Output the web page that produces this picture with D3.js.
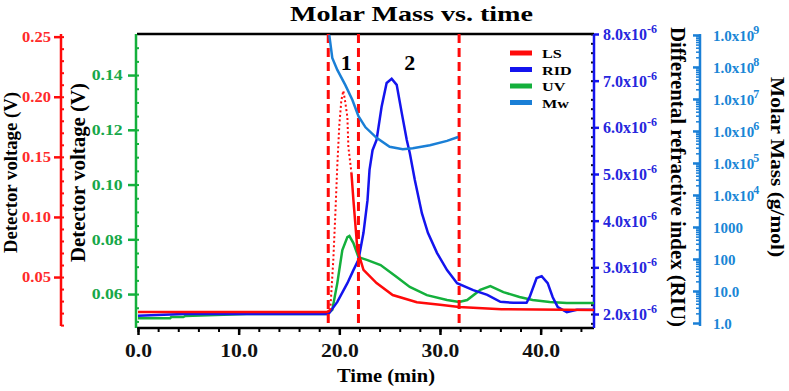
<!DOCTYPE html>
<html><head><meta charset="utf-8">
<script src="https://cdn.jsdelivr.net/npm/d3@7"></script>
<style>
html,body{margin:0;padding:0;background:#fff;}
svg{display:block;}
</style></head>
<body><svg id="c" width="789" height="391"></svg>
<script>
// ---- data ----
const timeTicks = [0, 10, 20, 30, 40];
const timeTickLabels = ["0.0", "10.0", "20.0", "30.0", "40.0"];
const lsTicks = [0.05, 0.10, 0.15, 0.20, 0.25];
const uvTicks = [0.06, 0.08, 0.10, 0.12, 0.14];
const ridTicks = [2, 3, 4, 5, 6, 7, 8]; // x1e-6
const mwTicks = [1, 10, 100, 1000, 1e4, 1e5, 1e6, 1e7, 1e8, 1e9];
const mwTickLabels = ["1.0", "10.0", "100", "1000", "1.0x10|4", "1.0x10|5", "1.0x10|6", "1.0x10|7", "1.0x10|8", "1.0x10|9"];
const seriesNames = ["LS", "RID", "UV", "Mw"];
const peakLines = [18.9, 21.9, 31.9];
const peakLabels = ["1", "2"];
const peakLabelTimes = [20.7, 27.0];

const lsTime = [0, 18.8, 19.1, 19.4, 19.6, 19.8, 20.0, 20.2, 20.4, 20.6, 20.8, 20.9, 21.2, 21.4, 21.8, 22.4, 23.7, 25.3, 27.7, 30.0, 31.9, 36.1, 45.3];
const lsVal  = [0.0209, 0.021, 0.0225, 0.064, 0.1016, 0.143, 0.1765, 0.197, 0.205, 0.195, 0.183, 0.158, 0.137, 0.114, 0.0725, 0.056, 0.045, 0.035, 0.029, 0.027, 0.025, 0.0233, 0.0225];

const uvTime = [0, 3.2, 3.3, 4.5, 4.7, 10.8, 18.8, 19.3, 19.8, 20.3, 20.8, 21.0, 21.4, 21.9, 22.8, 24.1, 25.7, 27.0, 28.7, 30.7, 31.9, 32.7, 34.0, 35.0, 36.3, 37.9, 39.2, 40.9, 42.6, 45.3];
const uvVal  = [0.0512, 0.0512, 0.0516, 0.0516, 0.0520, 0.0527, 0.0527, 0.0542, 0.0640, 0.0761, 0.0808, 0.0812, 0.0786, 0.0735, 0.0724, 0.0706, 0.0662, 0.0626, 0.0596, 0.0578, 0.0571, 0.0578, 0.0615, 0.0629, 0.0607, 0.0589, 0.0578, 0.0571, 0.0567, 0.0567];

const ridTime = [0, 4.5, 18.8, 19.0, 19.8, 20.8, 21.4, 21.9, 22.4, 22.8, 23.0, 23.3, 23.7, 24.2, 24.7, 25.2, 25.7, 26.2, 26.7, 27.0, 27.5, 28.2, 28.8, 29.7, 30.7, 31.7, 33.3, 34.7, 36.0, 37.3, 38.6, 38.9, 39.6, 40.1, 40.7, 41.2, 41.7, 42.6, 43.6, 45.3];
const ridVal  = [1.96, 2.0, 2.0, 2.02, 2.26, 2.66, 2.94, 3.16, 3.74, 4.44, 5.09, 5.51, 5.73, 6.44, 6.95, 7.04, 6.91, 6.31, 5.73, 5.45, 4.87, 4.16, 3.74, 3.31, 2.94, 2.66, 2.51, 2.41, 2.26, 2.24, 2.24, 2.36, 2.77, 2.81, 2.66, 2.36, 2.15, 2.04, 2.09, 2.09]; // x1e-6

const mwTime = [19.0, 19.3, 19.8, 20.6, 21.3, 21.9, 22.6, 23.7, 25.0, 26.3, 27.3, 29.0, 30.7, 31.8];
const mwVal  = [1.0e9, 1.9e8, 8.1e7, 2.7e7, 9.3e6, 2.9e6, 1.3e6, 6.1e5, 3.2e5, 2.7e5, 2.9e5, 3.6e5, 4.9e5, 6.5e5];

// ---- styles ----
const FONT = "Liberation Serif, Times New Roman, serif";
const cRed = "#ff0a0a", cRid = "#1414ee", cUv = "#14b03c", cMw = "#1a7fd6";
const cRedTxt = "#ff2a2a", cUvTxt = "#17a84a", cRidTxt = "#2626dd", cMwTxt = "#1a86d6";

const svg = d3.select("#c");
const L = 137, R = 594, T = 34, B = 328;

const x = d3.scaleLinear().domain([0, 45.3]).range([138, R]);
const yLS = d3.scaleLinear().domain([0.0076, 0.2522]).range([B, T]);
const yUV = d3.scaleLinear().domain([0.0476, 0.155]).range([B, T]);
const yRID = d3.scaleLinear().domain([1.70, 8.0]).range([B, T]);
const yMW = d3.scaleLog().domain([0.698, 1.07e9]).range([B, T]);

// ---- frame ----
svg.append("line").attr("x1", L).attr("x2", R).attr("y1", T).attr("y2", T).attr("stroke", "#000").attr("stroke-width", 2.5);

// x axis
const gx = svg.append("g").attr("transform", `translate(0,${B})`);
gx.call(d3.axisBottom(x).tickValues(d3.range(0, 45, 2)).tickSize(4).tickFormat(""));
gx.call(g => g.selectAll(".tick line").attr("stroke-width", 2));
const gx2 = svg.append("g").attr("transform", `translate(0,${B})`);
gx2.call(d3.axisBottom(x).tickValues(timeTicks).tickSize(7).tickFormat((d, i) => timeTickLabels[i]));
gx2.select(".domain").remove();
gx2.selectAll(".tick line").attr("stroke-width", 2.5);
gx2.selectAll(".tick text").attr("font-size", 18.5).attr("y", 29).attr("dy", 0).attr("fill", "#111").attr("transform", "scale(1.17,1)");
gx.select(".domain").attr("d", `M${L},0H${R}`).attr("stroke-width", 2.5);
svg.append("text").attr("x", 386).attr("y", 382).attr("text-anchor", "middle").attr("font-size", 18)
  .attr("textLength", 98).attr("lengthAdjust", "spacingAndGlyphs").text("Time (min)");

// red LS axis
const aLSx = 61;
const gLSm = svg.append("g").attr("transform", `translate(${aLSx},0)`)
  .call(d3.axisRight(yLS).tickValues(d3.range(0.01, 0.251, 0.01)).tickSize(3).tickFormat(""));
gLSm.selectAll("line").attr("stroke", cRed).attr("stroke-width", 2);
gLSm.select(".domain").attr("stroke", cRed).attr("stroke-width", 2.5).attr("d", `M0,${yLS(0.2522)}V${B - 2}`);
const gLS = svg.append("g").attr("transform", `translate(${aLSx},0)`)
  .call(d3.axisLeft(yLS).tickValues(lsTicks).tickSize(7).tickFormat(d3.format(".2f")));
gLS.select(".domain").remove();
gLS.selectAll("line").attr("stroke", cRed).attr("stroke-width", 2.5);
gLS.selectAll("text").attr("fill", cRedTxt).attr("font-size", 14).attr("x", -8.5).attr("transform", "scale(1.18,1)");
svg.append("text").attr("transform", "translate(17,172.5) rotate(-90)").attr("text-anchor", "middle").attr("font-size", 18.7)
  .attr("textLength", 161).attr("lengthAdjust", "spacingAndGlyphs").text("Detector voltage (V)");

// green UV axis
const aUVx = 136;
const gUVm = svg.append("g").attr("transform", `translate(${aUVx},0)`)
  .call(d3.axisRight(yUV).tickValues(d3.range(0.05, 0.151, 0.005)).tickSize(3).tickFormat(""));
gUVm.select(".domain").attr("stroke", cUv).attr("stroke-width", 2.5).attr("d", `M0,${T}V${B}`);
gUVm.selectAll("line").attr("stroke", cUv).attr("stroke-width", 2);
const gUV = svg.append("g").attr("transform", `translate(${aUVx},0)`)
  .call(d3.axisLeft(yUV).tickValues(uvTicks).tickSize(8).tickFormat(d3.format(".2f")));
gUV.select(".domain").remove();
gUV.selectAll("line").attr("stroke", cUv).attr("stroke-width", 2.5);
gUV.selectAll("text").attr("fill", cUvTxt).attr("font-size", 15).attr("x", -11.3).attr("transform", "scale(1.18,1)");
svg.append("text").attr("transform", "translate(85,172.5) rotate(-90)").attr("text-anchor", "middle").attr("font-size", 20.8)
  .attr("textLength", 179).attr("lengthAdjust", "spacingAndGlyphs").text("Detector voltage (V)");

// blue RID axis
const gRIDm = svg.append("g").attr("transform", `translate(${R},0)`)
  .call(d3.axisLeft(yRID).tickValues(d3.range(1.8, 8.01, 0.2)).tickSize(3).tickFormat(""));
gRIDm.select(".domain").remove();
gRIDm.selectAll("line").attr("stroke", "#111").attr("stroke-width", 2);
const gRID = svg.append("g").attr("transform", `translate(${R},0)`)
  .call(d3.axisRight(yRID).tickValues(ridTicks).tickSize(5).tickFormat(""));
gRID.select(".domain").attr("stroke", cRid).attr("stroke-width", 2.5).attr("d", `M0,${T}V${B}`);
gRID.selectAll("line").attr("stroke", cRid).attr("stroke-width", 2.5);
gRID.selectAll(".tick").each(function(d) {
  const t = d3.select(this).append("text").attr("x", 9).attr("dy", "0.35em").attr("fill", cRidTxt).attr("font-size", 16).attr("text-anchor", "start");
  t.append("tspan").text(d.toFixed(1) + "x10");
  t.append("tspan").attr("font-size", 12).attr("dy", -7).text("-6");
});
svg.append("text").attr("transform", "translate(671,177) rotate(90)").attr("text-anchor", "middle").attr("font-size", 20)
  .attr("textLength", 300).attr("lengthAdjust", "spacingAndGlyphs").text("Differental refractive index (RIU)");

// Mw axis
const aMWx = 700;
const mwMinor = [];
for (let e = 0; e < 9; e++) for (let k = 2; k <= 9; k++) mwMinor.push(k * Math.pow(10, e));
const gMWm = svg.append("g").attr("transform", `translate(${aMWx},0)`)
  .call(d3.axisLeft(yMW).tickValues(mwMinor).tickSize(4).tickFormat(""));
gMWm.select(".domain").attr("stroke", cMw).attr("stroke-width", 2.5).attr("d", `M0,${T}V${B - 2}`);
gMWm.selectAll("line").attr("stroke", cMw).attr("stroke-width", 1.5);
const gMW = svg.append("g").attr("transform", `translate(${aMWx},0)`)
  .call(d3.axisLeft(yMW).tickValues(mwTicks).tickSize(7).tickFormat(""));
gMW.select(".domain").remove();
gMW.selectAll("line").attr("stroke", cMw).attr("stroke-width", 2.5);
gMW.selectAll(".tick").each(function(d, i) {
  const parts = mwTickLabels[i].split("|");
  const t = d3.select(this).append("text").attr("x", 13).attr("dy", "0.35em").attr("fill", cMwTxt).attr("font-size", 15).attr("text-anchor", "start");
  t.append("tspan").text(parts[0]);
  if (parts[1]) t.append("tspan").attr("font-size", 12).attr("dy", -7).attr("dx", -1).text(parts[1]);
});
svg.append("text").attr("transform", "translate(771,167) rotate(90)").attr("text-anchor", "middle").attr("font-size", 19)
  .attr("textLength", 180).attr("lengthAdjust", "spacingAndGlyphs").text("Molar Mass (g/mol)");

// title
svg.append("text").attr("x", 411.5).attr("y", 21).attr("text-anchor", "middle").attr("font-size", 22)
  .attr("textLength", 243).attr("lengthAdjust", "spacingAndGlyphs").text("Molar Mass vs. time");

// ---- series ----
const clipId = "plotclip";
svg.append("clipPath").attr("id", clipId).append("rect").attr("x", L).attr("y", T - 2).attr("width", R - L).attr("height", B - T + 2);
const plot = svg.append("g").attr("clip-path", `url(#${clipId})`);

function pts(ts, vs) { return ts.map((t, i) => [t, vs[i]]); }
const lsPts = pts(lsTime, lsVal);
const uvPts = pts(uvTime, uvVal);
const ridPts = pts(ridTime, ridVal);
const mwPts = pts(mwTime, mwVal);

plot.append("path").datum(uvPts).attr("fill", "none").attr("stroke", cUv).attr("stroke-width", 2.5)
  .attr("d", d3.line().x(d => x(d[0])).y(d => yUV(d[1])));
plot.append("path").datum(ridPts).attr("fill", "none").attr("stroke", cRid).attr("stroke-width", 2.5)
  .attr("d", d3.line().x(d => x(d[0])).y(d => yRID(d[1])));
// LS: solid baseline/tail, dotted steep peak
const lsLine = d3.line().x(d => x(d[0])).y(d => yLS(d[1]));
plot.append("path").datum(lsPts.filter(d => d[0] <= 19.1)).attr("fill", "none").attr("stroke", cRed).attr("stroke-width", 2.5).attr("d", lsLine);
plot.append("path").datum(lsPts.filter(d => d[0] >= 19.1 && d[0] <= 21.2)).attr("fill", "none").attr("stroke", cRed).attr("stroke-width", 2).attr("stroke-dasharray", "2,2.5").attr("d", lsLine);
plot.append("path").datum(lsPts.filter(d => d[0] >= 21.2)).attr("fill", "none").attr("stroke", cRed).attr("stroke-width", 2.5).attr("d", lsLine);

// peak separators
plot.selectAll(".pk").data(peakLines).enter().append("line")
  .attr("x1", d => x(d)).attr("x2", d => x(d)).attr("y1", T).attr("y2", B)
  .attr("stroke", cRed).attr("stroke-width", 3).attr("stroke-dasharray", "9,5");

plot.append("path").datum(mwPts).attr("fill", "none").attr("stroke", cMw).attr("stroke-width", 2.5)
  .attr("d", d3.line().x(d => x(d[0])).y(d => yMW(d[1])));

svg.selectAll(".pl").data(peakLabels).enter().append("text")
  .attr("x", (d, i) => x(peakLabelTimes[i])).attr("y", 70).attr("text-anchor", "middle").attr("font-size", 22).text(d => d);

// legend
const legColors = [cRed, cRid, cUv, cMw];
const lg = svg.append("g");
seriesNames.forEach((n, i) => {
  const yy = 53 + i * 16.5;
  lg.append("line").attr("x1", 510).attr("x2", 532).attr("y1", yy).attr("y2", yy).attr("stroke", legColors[i]).attr("stroke-width", 5);
  lg.append("text").attr("transform", `translate(542,${yy + 5}) scale(1.2,1)`).attr("font-size", 13.5).text(n);
});

// fonts for all texts
svg.selectAll("g").attr("font-family", null);
svg.selectAll("text").attr("font-family", FONT).attr("font-weight", "bold");
</script></body></html>
